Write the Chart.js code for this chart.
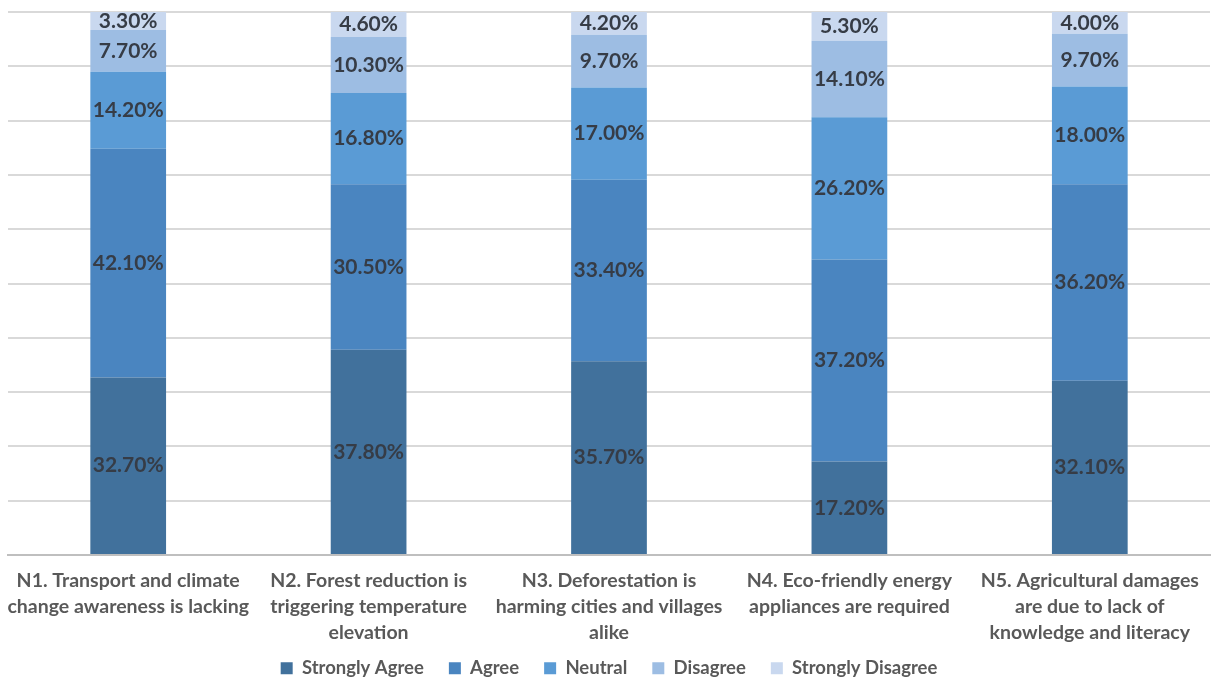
<!DOCTYPE html>
<html>
<head>
<meta charset="utf-8">
<script src="https://cdn.jsdelivr.net/npm/chart.js@4/dist/chart.umd.min.js"></script>
<style>
  html, body { margin: 0; padding: 0; background: #fff; }
  #wrap { width: 1213px; height: 680px; }
</style>
</head>
<body>
<div id="wrap"><canvas id="myChart" width="1213" height="680"></canvas></div>
<script>
var categories = [
  ["N1. Transport and climate", "change awareness is lacking"],
  ["N2. Forest reduction is", "triggering temperature", "elevation"],
  ["N3. Deforestation is", "harming cities and villages", "alike"],
  ["N4. Eco-friendly energy", "appliances are required"],
  ["N5. Agricultural damages", "are due to lack of", "knowledge and literacy"]
];
var seriesNames = ["Strongly Agree", "Agree", "Neutral", "Disagree", "Strongly Disagree"];
var stronglyAgree = [32.7, 37.8, 35.7, 17.2, 32.1];
var agree = [42.1, 30.5, 33.4, 37.2, 36.2];
var neutral = [14.2, 16.8, 17.0, 26.2, 18.0];
var disagree = [7.7, 10.3, 9.7, 14.1, 9.7];
var stronglyDisagree = [3.3, 4.6, 4.2, 5.3, 4.0];
var colors = ["#41719c", "#4a85c0", "#5a9bd5", "#9dbde3", "#c9d8ef"];

var allValues = [stronglyAgree, agree, neutral, disagree, stronglyDisagree];
var datasets = [];
for (var i = 0; i < seriesNames.length; i++) {
  datasets.push({
    label: seriesNames[i],
    data: allValues[i],
    backgroundColor: colors[i],
    borderWidth: 0,
    barPercentage: 0.63,
    categoryPercentage: 0.5
  });
}

// etykiety w srodku segmentow
var valueLabels = {
  id: "valueLabels",
  afterDatasetsDraw: function (chart) {
    var ctx = chart.ctx;
    ctx.save();
    ctx.font = "bold 21px Lato, 'Open Sans', sans-serif";
    ctx.fillStyle = "#363c46";
    ctx.textAlign = "center";
    ctx.textBaseline = "middle";
    chart.data.datasets.forEach(function (ds, di) {
      var meta = chart.getDatasetMeta(di);
      meta.data.forEach(function (bar, idx) {
        var y = (bar.y + bar.base) / 2;
        ctx.fillText(ds.data[idx].toFixed(2) + "%", bar.x, y);
      });
    });
    ctx.restore();
  }
};

// legenda: duzy odstep w poziomie, ale niska wysokosc
var legendHeight = {
  id: "legendHeight",
  afterInit: function (chart) {
    var lg = chart.legend;
    if (!lg) return;
    var origFit = lg.fit;
    var origDraw = lg.draw;
    lg.fit = function () {
      origFit.call(this);
      this.height = 35;
    };
    lg.draw = function () {
      var top = this.top;
      this.top = top - 11;
      origDraw.apply(this, arguments);
      this.top = top;
    };
  }
};

new Chart(document.getElementById("myChart"), {
  type: "bar",
  data: { labels: categories, datasets: datasets },
  plugins: [valueLabels, legendHeight],
  options: {
    responsive: false,
    animation: false,
    layout: { padding: { top: 12, left: 8, right: 3, bottom: 0 } },
    plugins: {
      tooltip: { enabled: false },
      legend: {
        position: "bottom",
        labels: {
          boxWidth: 12,
          boxHeight: 12,
          padding: 25,
          color: "#595959",
          font: { family: "Lato, 'Open Sans', sans-serif", size: 18.5, weight: "bold" }
        }
      }
    },
    scales: {
      x: {
        stacked: true,
        grid: { display: false },
        border: { color: "#bfbfbf", width: 2 },
        afterFit: function (scale) { scale.height = 90; },
        ticks: {
          color: "#595959",
          padding: 5,
          autoSkip: false,
          maxRotation: 0,
          font: { family: "Lato, 'Open Sans', sans-serif", size: 19.5, weight: "bold", lineHeight: 1.32 }
        }
      },
      y: {
        stacked: true,
        min: 0,
        max: 100,
        ticks: { display: false, stepSize: 10 },
        border: { display: false },
        grid: { color: "#d9d9d9", lineWidth: 2, drawTicks: false }
      }
    }
  }
});
</script>
</body>
</html>
